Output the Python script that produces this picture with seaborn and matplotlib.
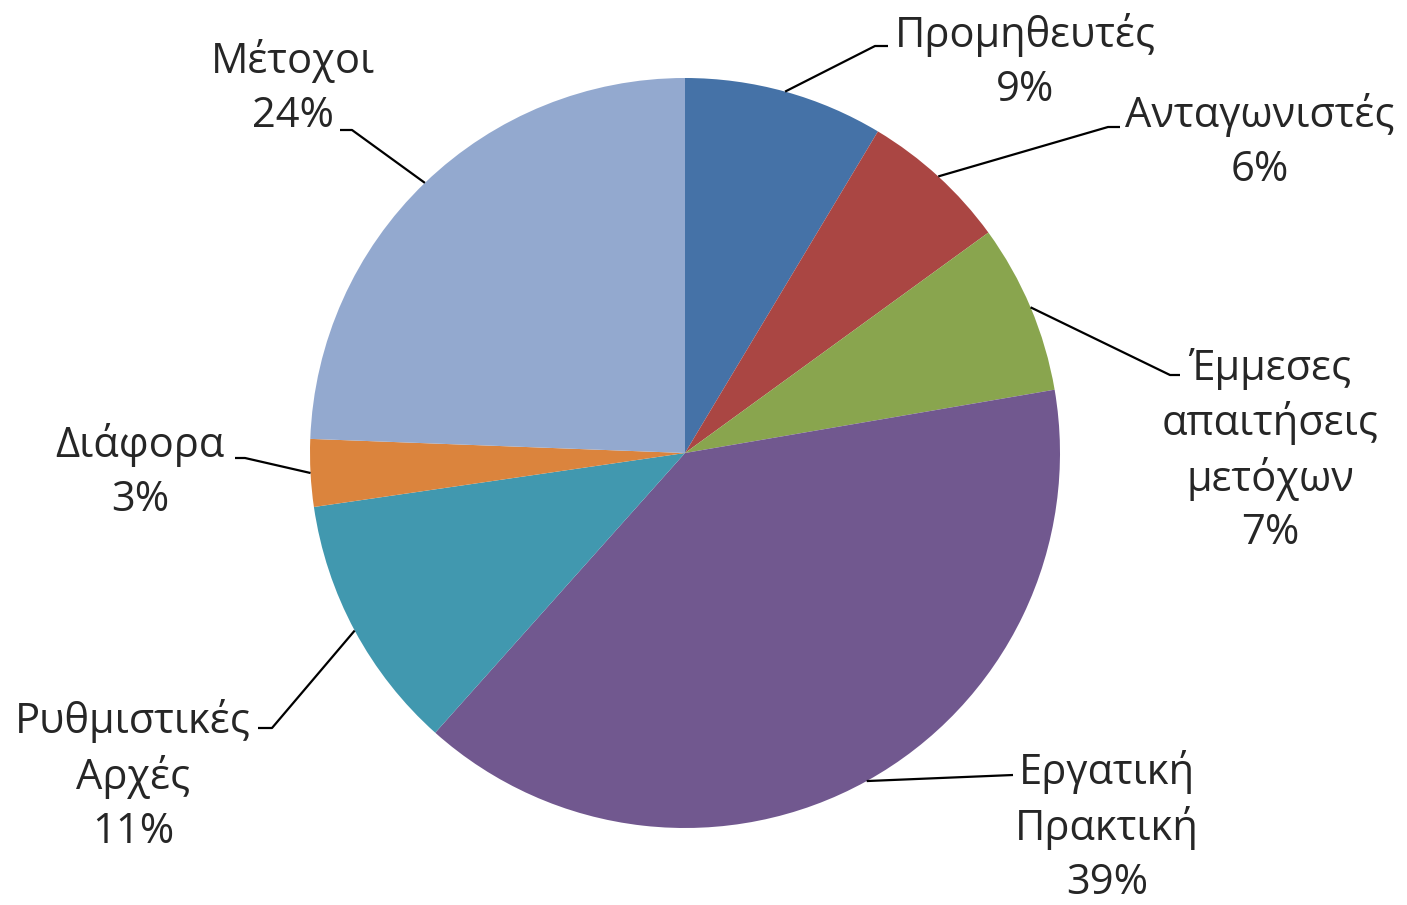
import numpy as np
import seaborn as sns
import matplotlib
matplotlib.use("Agg")
import matplotlib.pyplot as plt

sns.set_theme(style="white")
plt.rcParams['font.family'] = ['Open Sans', 'DejaVu Sans']

# data
labels = ['Προμηθευτές', 'Ανταγωνιστές', 'Έμμεσες\nαπαιτήσεις\nμετόχων',
          'Εργατική\nΠρακτική', 'Ρυθμιστικές\nΑρχές', 'Διάφορα', 'Μέτοχοι']
shares = [8.6, 6.4, 7.3, 39.3, 11.1, 2.9, 24.4]
colors = sns.color_palette(['#4572A7', '#AA4643', '#89A54E', '#71588F',
                            '#4198AF', '#DB843D', '#93A9CF'])

# label layout in pixels (x, y from top): text centre, elbow, line end
W, H = 1407, 905
cx, cy, R = 685, 453, 375
text_pos = [(1025, 62), (1260, 142), (1270, 451), (1107, 827),
            (133, 776), (140, 472), (293, 88)]
elbow = [(875, 46), (1108, 127), (1170, 375), (1013, 775),
         (272, 728), (245, 458), (352, 130)]
line_end = [(888, 46), (1120, 127), (1180, 375), (1013, 775),
            (258, 728), (235, 458), (340, 130)]

fig = plt.figure(figsize=(W / 100, H / 100), dpi=100)
ax = fig.add_axes([0, 0, 1, 1])
wedges, _ = ax.pie(shares, colors=colors, startangle=90, counterclock=False,
                   center=(cx, H - cy), radius=R,
                   wedgeprops=dict(linewidth=0))
ax.set_xlim(0, W)
ax.set_ylim(0, H)
ax.axis('off')

total = sum(shares)
for i, w in enumerate(wedges):
    ang = np.deg2rad((w.theta1 + w.theta2) / 2)
    px = cx + R * np.cos(ang)
    py = (H - cy) + R * np.sin(ang)
    ex, ey = elbow[i]
    lx, ly = line_end[i]
    ax.plot([px, ex, lx], [py, H - ey, H - ly], color='black', lw=1.6,
            solid_capstyle='butt')
    tx, ty = text_pos[i]
    ax.text(tx, H - ty, f"{labels[i]}\n{shares[i] / total * 100:.0f}%",
            ha='center', va='center', fontsize=30, linespacing=1.35,
            multialignment='center')

fig.savefig('out.png', dpi=100, facecolor='white')
